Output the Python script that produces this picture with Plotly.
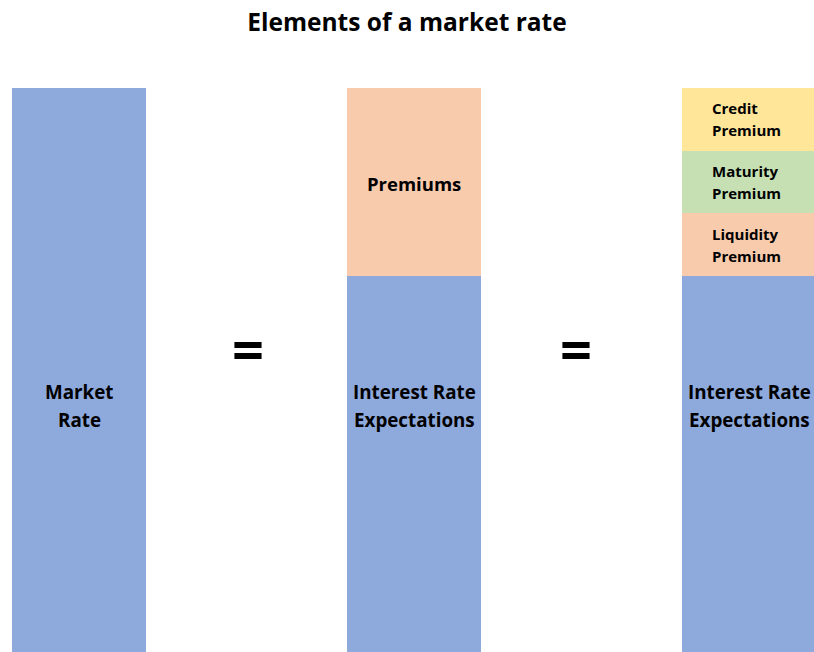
import plotly.graph_objects as go

# Stack segments (relative units)
columns = ["market", "premiums", "detail"]
base_label = [["Market", "Rate"], ["Interest Rate", "Expectations"], ["Interest Rate", "Expectations"]]
base_values = [9, 6, 6]
premium_total = [0, 3, 0]
liquidity = [0, 0, 1]
maturity = [0, 0, 1]
credit = [0, 0, 1]

BLUE = "#8EA9DB"
ORANGE = "#F8CBAD"
GREEN = "#C6E0B4"
YELLOW = "#FFE699"
FONT = "Open Sans"

xs = [0, 1, 2]
bar_w = 0.4

fig = go.Figure()


def add_segment(vals, color):
    fig.add_trace(go.Bar(
        x=xs, y=vals, width=bar_w, marker=dict(color=color, line=dict(width=0)),
        hoverinfo="skip", showlegend=False,
    ))


add_segment(base_values, BLUE)
add_segment(premium_total, ORANGE)
add_segment(liquidity, ORANGE)
add_segment(maturity, GREEN)
add_segment(credit, YELLOW)


def two_lines(x, y, lines, size, gap, **kw):
    for line, shift in zip(lines, (gap / 2, -gap / 2)):
        fig.add_annotation(x=x, y=y, yshift=shift, text="<b>" + line + "</b>",
                           showarrow=False, font=dict(family=FONT, size=size, color="black"), **kw)


# Labels in the base segments
for i in range(3):
    two_lines(xs[i], 3.925, base_label[i], 18.8, 28)

fig.add_annotation(x=1, y=base_values[1] + premium_total[1] / 2, yshift=-1, text="<b>Premiums</b>",
                   showarrow=False, font=dict(family=FONT, size=18.5, color="black"))

# Premium breakdown labels
stack = base_values[2]
for val, name in [(liquidity[2], "Liquidity"), (maturity[2], "Maturity"), (credit[2], "Credit")]:
    two_lines(1.884, stack + val / 2, [name, "Premium"], 15, 22, xanchor="left")
    stack += val

# Equals signs between the columns
for xe in [0.503, 1.483]:
    fig.add_annotation(x=xe, y=4.85, text="<b>=</b>", showarrow=False,
                       font=dict(family=FONT, size=56, color="black"))

fig.update_layout(
    barmode="stack",
    width=814, height=652,
    margin=dict(l=0, r=0, t=88, b=0),
    paper_bgcolor="white", plot_bgcolor="white",
    title=dict(text="<b>Elements of a market rate</b>", x=0.5, xanchor="center",
               y=1 - 22 / 652, yanchor="middle",
               font=dict(family=FONT, size=24.5, color="black")),
    xaxis=dict(range=[-0.237, 2.193], visible=False, fixedrange=True),
    yaxis=dict(range=[0, 9], visible=False, fixedrange=True),
)

fig.write_html("out.html")
